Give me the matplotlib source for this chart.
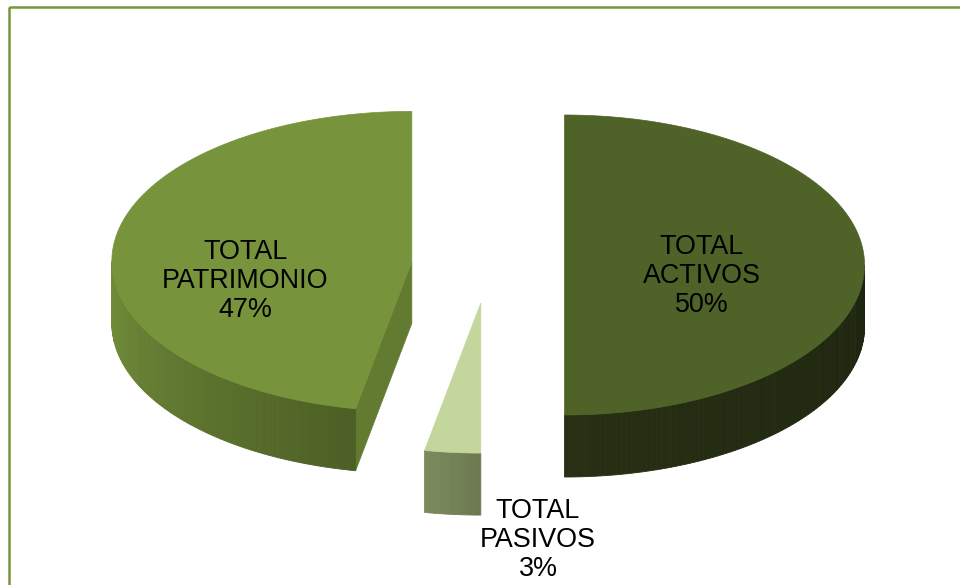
import numpy as np
import matplotlib
matplotlib.use('Agg')
import matplotlib.pyplot as plt
import matplotlib.colors as mcolors
from matplotlib.patches import Polygon, Rectangle

plt.rcParams['font.family'] = ['Liberation Sans', 'DejaVu Sans']

#%% data
labels = ['TOTAL\nACTIVOS', 'TOTAL\nPASIVOS', 'TOTAL\nPATRIMONIO']
values = [50, 3, 47]

#%% style
top_colors = ['#4f6228', '#c3d69b', '#77933c']
side_colors = [('#272f14', '#1e250f'), ('#7b8b5d', '#6c7850'), ('#728e39', '#4c5f25')]
cut_colors = ['#3a481d', '#9aab73', '#627b30']
label_xy = [(702, 276), (538, 540), (245, 281)]

cx, cy = 488, 265      # pie centre (pixels)
rx, ry = 300, 150      # top ellipse radii
depth = 62
explode = 0.255


def pt(c, t, k=1.0, dz=0):
    t = np.radians(t)
    return (c[0] + k * rx * np.cos(t), c[1] - k * ry * np.sin(t) + dz)


def mix(c0, c1, f):
    a = np.array(mcolors.to_rgb(c0))
    b = np.array(mcolors.to_rgb(c1))
    return tuple(a + (b - a) * f)


#%% figure
fig = plt.figure(figsize=(9.6, 5.85), dpi=100)
ax = fig.add_axes([0, 0, 1, 1])
ax.set_xlim(0, 960)
ax.set_ylim(585, 0)
ax.axis('off')

total = float(sum(values))
cum = np.concatenate([[0], np.cumsum(values)]) / total * 360
slices = []
for i in range(len(values)):
    t2 = 90 - cum[i]
    t1 = 90 - cum[i + 1]
    mid = (t1 + t2) / 2
    c = pt((cx, cy), mid, explode)
    slices.append((np.sin(np.radians(mid)), i, t1, t2, c))

# back to front
slices.sort(key=lambda s: -s[0])

for _, i, t1, t2, c in slices:
    # cut faces that look towards the viewer
    for t, nrm in ((t1, t1 - 90), (t2, t2 + 90)):
        if np.sin(np.radians(nrm)) < -1e-6:
            poly = [c, pt(c, t), pt(c, t, dz=depth), (c[0], c[1] + depth)]
            ax.add_patch(Polygon(poly, closed=True, facecolor=cut_colors[i],
                                 edgecolor=cut_colors[i], lw=0.5))
    # curved front side
    lo, hi = max(t1, -180), min(t2, 0)
    if hi > lo:
        ts = np.linspace(lo, hi, int(hi - lo) + 2)
        for k in range(len(ts) - 1):
            f = (ts[k] - lo) / (hi - lo)
            col = mix(side_colors[i][0], side_colors[i][1], f)
            poly = [pt(c, ts[k]), pt(c, ts[k + 1]),
                    pt(c, ts[k + 1], dz=depth), pt(c, ts[k], dz=depth)]
            ax.add_patch(Polygon(poly, closed=True, facecolor=col,
                                 edgecolor=col, lw=0.6))
    # top face
    ts = np.linspace(t1, t2, int(t2 - t1) * 2 + 2)
    poly = [c] + [pt(c, t) for t in ts]
    ax.add_patch(Polygon(poly, closed=True, facecolor=top_colors[i],
                         edgecolor=top_colors[i], lw=0.5))

for i, lab in enumerate(labels):
    pct = '{:.0f}%'.format(values[i] / total * 100)
    ax.text(label_xy[i][0], label_xy[i][1], lab + '\n' + pct,
            ha='center', va='center', multialignment='center',
            fontsize=19.4, color='black', linespacing=1.17)

# outer frame
ax.add_patch(Rectangle((8.5, 6.5), 1000, 1000, fill=False,
                       edgecolor='#77963b', lw=1.8))

fig.savefig('out.png', dpi=100)
